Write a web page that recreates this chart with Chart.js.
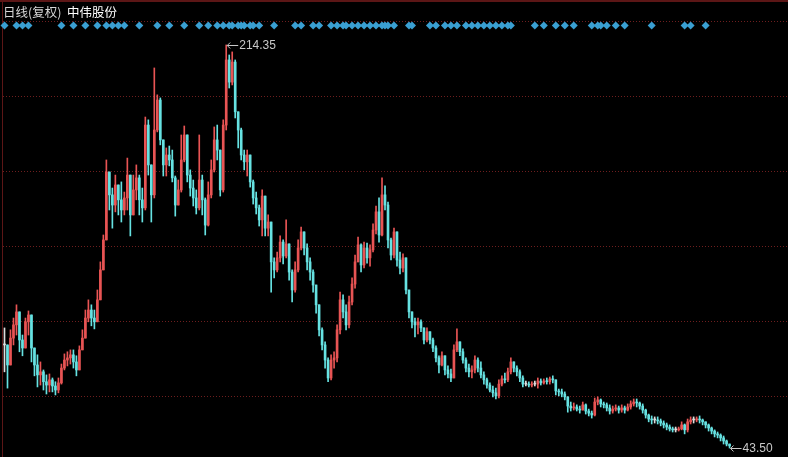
<!DOCTYPE html>
<html>
<head>
<meta charset="utf-8">
<script src="https://cdn.jsdelivr.net/npm/chart.js@4.4.1/dist/chart.umd.min.js"></script>
<style>
body { margin: 0; background: #000; }
#wrap { position: relative; width: 788px; height: 457px; background: #000; overflow: hidden; }
#kline { position: absolute; left: 0; top: 0; }
#title { position: absolute; left: 3px; top: 2px; font: 12.5px "Noto Sans CJK SC", sans-serif; color: #d6d6d6; white-space: pre; }
#title span { color: #ffffff; }
</style>
</head>
<body>
<div id="wrap">
<canvas id="kline" width="788" height="457"></canvas>
<div id="title">日线(复权)  <span>中伟股份</span></div>
</div>
<script>
/* global Chart */
// daily closes (adjusted), sampled left to right
const closes = [
    87.2, 78.7, 90.1, 95.7, 101.2, 89.3, 85.9, 97.0, 99.9, 85.9,
    78.7, 74.5, 75.8, 71.6, 70.2, 72.4, 69.8, 68.1, 71.1, 77.4,
    80.8, 81.7, 83.0, 80.0, 76.6, 85.1, 90.1, 98.6, 102.0, 98.6,
    97.0, 106.3, 119.0, 131.7, 160.5, 150.8, 146.5, 155.0, 148.7, 144.4,
    149.5, 159.2, 142.3, 152.9, 158.0, 148.7, 145.3, 180.4, 163.5, 150.8,
    178.3, 191.0, 174.1, 163.5, 167.7, 165.6, 158.0, 146.5, 152.9, 165.6,
    176.2, 159.2, 153.7, 149.5, 145.3, 157.1, 148.7, 138.0, 150.8, 161.4,
    174.1, 169.8, 152.9, 180.4, 208.0, 198.6, 207.1, 186.0, 178.3, 167.7,
    164.8, 167.7, 156.3, 149.5, 145.3, 140.2, 150.3, 136.7, 139.3, 122.4,
    119.0, 124.1, 130.8, 124.9, 130.0, 118.1, 110.5, 119.0, 128.3, 135.1,
    128.3, 122.4, 118.1, 112.6, 104.2, 93.6, 87.2, 80.8, 73.2, 80.8,
    81.7, 93.6, 106.3, 101.2, 95.7, 105.4, 113.0, 122.4, 129.6, 121.1,
    128.3, 124.1, 127.5, 135.9, 143.6, 133.8, 150.8, 146.5, 131.7, 125.3,
    135.1, 123.2, 119.8, 124.1, 110.5, 101.2, 97.0, 95.7, 97.0, 94.4,
    89.3, 92.8, 89.3, 85.9, 81.7, 78.7, 82.6, 76.6, 74.9, 73.2,
    85.1, 88.5, 84.3, 80.8, 77.4, 75.8, 76.6, 80.8, 77.4, 74.5,
    72.4, 70.2, 68.1, 66.9, 65.6, 70.6, 72.8, 72.4, 75.8, 80.0,
    77.4, 75.8, 73.2, 70.6, 70.6, 70.2, 70.6, 70.6, 71.9, 71.1,
    71.9, 71.6, 72.8, 72.4, 67.7, 67.3, 66.4, 65.2, 61.3, 60.5,
    60.9, 60.0, 59.6, 61.8, 59.2, 58.3, 57.5, 63.0, 63.9, 62.2,
    61.8, 60.5, 59.2, 60.0, 60.5, 59.6, 60.5, 59.6, 60.9, 62.2,
    63.0, 62.6, 61.3, 59.6, 57.5, 55.8, 55.4, 55.4, 55.0, 54.1,
    53.3, 52.4, 51.6, 51.2, 51.2, 51.6, 53.3, 51.2, 54.6, 55.4,
    55.4, 55.8, 55.4, 54.6, 53.3, 52.0, 50.7, 49.5, 49.0, 47.8,
    46.5, 45.2, 44.4
];
const highs = [
    94.4, 87.2, 93.6, 98.6, 104.2, 94.4, 91.4, 98.6, 101.6, 90.1,
    85.1, 83.0, 80.0, 76.6, 74.5, 74.9, 73.2, 71.6, 73.2, 79.1,
    83.4, 84.3, 85.1, 85.1, 82.6, 86.8, 93.6, 102.0, 106.3, 104.2,
    102.0, 110.5, 122.4, 133.8, 165.6, 159.2, 153.7, 159.2, 155.0, 156.3,
    152.0, 166.4, 153.7, 159.2, 163.5, 159.2, 153.7, 183.8, 182.6, 163.5,
    204.6, 193.2, 191.9, 172.0, 170.7, 171.5, 169.8, 158.8, 157.1, 176.2,
    180.0, 176.2, 161.4, 157.1, 152.9, 176.2, 159.2, 149.5, 156.3, 165.6,
    179.6, 180.4, 169.8, 182.6, 214.35, 210.1, 211.4, 208.0, 186.0, 179.1,
    169.8, 169.8, 166.4, 157.1, 152.0, 146.5, 152.9, 150.3, 142.3, 139.3,
    124.1, 126.6, 133.4, 131.7, 140.2, 130.0, 119.0, 122.4, 131.7, 137.2,
    135.1, 130.0, 124.1, 119.0, 112.6, 104.2, 94.4, 88.5, 81.7, 83.0,
    84.3, 95.7, 109.6, 108.4, 104.2, 107.9, 115.6, 125.3, 132.9, 130.0,
    130.8, 130.4, 129.6, 138.5, 146.1, 149.5, 158.0, 154.6, 147.8, 132.5,
    136.7, 135.1, 126.6, 125.8, 124.1, 110.5, 101.2, 98.6, 98.6, 97.8,
    94.4, 94.4, 92.8, 90.1, 86.8, 82.6, 84.3, 82.6, 78.3, 77.0,
    87.2, 94.0, 88.5, 85.5, 81.7, 79.1, 78.3, 82.6, 81.7, 80.0,
    75.8, 73.2, 71.1, 69.8, 68.9, 72.4, 74.1, 75.3, 77.4, 81.7,
    80.0, 78.3, 76.6, 74.1, 71.9, 71.6, 71.6, 71.9, 73.2, 72.8,
    72.8, 73.2, 73.6, 74.1, 72.4, 68.5, 68.5, 67.3, 64.7, 63.0,
    62.6, 61.8, 61.3, 63.0, 62.2, 60.0, 59.2, 64.7, 65.2, 64.3,
    63.0, 62.6, 61.8, 61.3, 61.8, 61.3, 61.8, 61.3, 62.2, 63.5,
    64.3, 64.3, 63.0, 62.2, 60.0, 57.9, 57.1, 56.7, 56.7, 55.8,
    55.0, 54.1, 53.3, 52.4, 52.4, 52.4, 54.6, 53.7, 55.8, 56.7,
    56.7, 56.7, 57.1, 55.8, 54.6, 53.7, 52.4, 51.2, 50.3, 49.5,
    48.6, 46.9, 45.2
];
const lows = [
    75.8, 68.9, 80.0, 87.2, 91.4, 84.3, 82.6, 87.2, 91.4, 80.0,
    74.1, 69.4, 70.2, 68.1, 66.4, 67.3, 67.3, 66.0, 66.9, 70.6,
    76.6, 78.3, 79.1, 77.4, 74.1, 78.7, 85.1, 92.8, 97.0, 95.3,
    94.0, 99.5, 107.1, 119.8, 131.7, 144.4, 136.7, 143.6, 142.3, 139.3,
    142.3, 144.4, 133.4, 145.3, 148.7, 142.3, 139.3, 144.4, 159.2, 139.3,
    149.5, 177.5, 172.0, 158.8, 158.8, 163.1, 156.3, 141.8, 146.9, 152.0,
    164.8, 156.3, 150.3, 146.1, 142.7, 144.4, 142.3, 133.8, 137.6, 149.5,
    160.5, 165.6, 150.3, 152.0, 178.3, 196.1, 197.4, 183.4, 170.7, 165.6,
    161.4, 158.8, 154.1, 146.9, 142.7, 137.6, 133.4, 133.4, 133.4, 109.6,
    115.6, 118.1, 122.4, 121.5, 124.1, 114.7, 105.4, 109.6, 118.1, 127.5,
    125.3, 119.0, 114.7, 109.6, 100.7, 91.0, 85.1, 77.4, 71.6, 72.4,
    77.4, 80.0, 91.9, 98.6, 93.6, 94.4, 104.2, 111.3, 122.4, 118.1,
    119.8, 121.9, 120.6, 126.6, 134.2, 130.8, 133.4, 144.4, 128.3, 123.2,
    124.1, 120.6, 117.3, 118.1, 108.8, 98.6, 94.4, 90.6, 91.9, 92.8,
    87.6, 88.5, 87.6, 84.3, 80.0, 75.3, 78.3, 74.5, 73.2, 71.6,
    73.2, 84.3, 82.6, 79.5, 75.8, 73.6, 73.2, 75.3, 75.8, 73.2,
    70.6, 68.9, 67.3, 65.2, 64.3, 64.7, 69.8, 71.1, 71.6, 74.9,
    75.8, 74.1, 71.6, 69.4, 69.8, 69.4, 69.4, 69.8, 68.9, 70.2,
    70.6, 70.6, 70.6, 71.1, 66.0, 65.6, 65.2, 63.9, 58.7, 59.2,
    59.6, 59.2, 58.3, 60.0, 57.9, 57.1, 56.2, 57.1, 61.8, 60.9,
    60.5, 59.2, 57.9, 58.3, 59.2, 58.3, 58.7, 58.3, 59.2, 60.0,
    61.3, 60.9, 60.0, 58.3, 56.2, 54.6, 53.7, 54.1, 53.7, 52.9,
    52.0, 51.2, 50.7, 50.3, 50.3, 50.7, 51.2, 49.5, 50.3, 53.7,
    54.1, 54.6, 54.1, 53.3, 52.0, 50.7, 49.5, 48.2, 47.8, 46.5,
    45.2, 44.4, 43.5
];
// days carrying a signal marker (diamond row)
const signalDays = [0, 4, 6, 8, 19, 23, 27, 31, 34, 36, 38, 40, 45, 51, 55, 60, 65, 68,
    71, 73, 75, 76, 78, 79, 80, 82, 83, 85, 90, 97, 99, 103, 105,
    109, 111, 113, 114, 116, 118, 120, 122, 124, 126, 127, 128, 130, 135, 136,
    142, 144, 147, 149, 151, 154, 156, 158, 160, 162, 164, 166, 168, 169,
    177, 180, 184, 187, 190, 196, 198, 199, 201, 204, 207, 216, 227, 229, 234];
const gridValues = [65.3, 97.1, 128.8, 160.6, 192.4, 224.2];
const totalSlots = 262;

const opens = closes.map((c, i) => i === 0 ? c : closes[i - 1]);
const upColor = '#e85454';
const downColor = '#66e2e2';
const flatColor = '#dddddd';
const colors = closes.map((c, i) => c > opens[i] ? upColor : (c < opens[i] ? downColor : flatColor));
const wicks = closes.map((c, i) => [Math.min(lows[i], opens[i], c), Math.max(highs[i], opens[i], c)]);
const bodies = closes.map((c, i) => [Math.min(opens[i], c), Math.max(opens[i], c)]);
const labels = Array.from({ length: totalSlots }, (_, i) => i);

function drawMark(c, x, y, text) {
    const yy = Math.round(y) + 0.5;
    c.strokeStyle = '#c8c8c8';
    c.lineWidth = 1;
    c.beginPath();
    c.moveTo(x + 1, yy);
    c.lineTo(x + 12, yy);
    c.moveTo(x + 1, yy);
    c.lineTo(x + 4, yy - 3);
    c.moveTo(x + 1, yy);
    c.lineTo(x + 4, yy + 3);
    c.stroke();
    c.fillStyle = '#c8c8c8';
    c.font = '12px "Liberation Sans", Arial, sans-serif';
    c.textBaseline = 'middle';
    c.textAlign = 'left';
    c.fillText(text, x + 13, yy + 0.5);
}

const extras = {
    id: 'extras',
    beforeDraw(chart) {
        const c = chart.ctx;
        c.save();
        c.fillStyle = '#000';
        c.fillRect(0, 0, chart.width, chart.height);
        c.fillStyle = '#5c1616';
        c.fillRect(0, 0, chart.width, 2);
        c.fillRect(2, 0, 1, chart.height);
        c.restore();
    },
    afterDatasetsDraw(chart) {
        const c = chart.ctx;
        const xs = chart.scales.x;
        const ys = chart.scales.y;
        c.save();
        c.fillStyle = '#3a9fd2';
        signalDays.forEach(d => {
            const x = xs.getPixelForValue(d);
            c.beginPath();
            c.moveTo(x, 21.5);
            c.lineTo(x + 4, 25.5);
            c.lineTo(x, 29.5);
            c.lineTo(x - 4, 25.5);
            c.closePath();
            c.fill();
        });
        let hi = 0, lo = 0;
        highs.forEach((h, i) => { if (h > highs[hi]) hi = i; });
        lows.forEach((l, i) => { if (l < lows[lo]) lo = i; });
        drawMark(c, xs.getPixelForValue(hi), ys.getPixelForValue(highs[hi]), highs[hi].toFixed(2));
        drawMark(c, xs.getPixelForValue(lo), ys.getPixelForValue(lows[lo]), lows[lo].toFixed(2));
        c.restore();
    }
};

const ctx = document.getElementById('kline').getContext('2d');
new Chart(ctx, {
    type: 'bar',
    data: {
        labels: labels,
        datasets: [{
            data: wicks,
            backgroundColor: colors,
            barThickness: 1,
            grouped: false,
            order: 2
        }, {
            data: bodies,
            backgroundColor: colors,
            barThickness: 2,
            minBarLength: 1,
            grouped: false,
            order: 1
        }]
    },
    options: {
        responsive: false,
        animation: false,
        devicePixelRatio: 1,
        layout: { padding: { left: 3, right: 0, top: 0, bottom: 0 } },
        plugins: {
            legend: { display: false },
            tooltip: { enabled: false }
        },
        scales: {
            x: { display: false, offset: true },
            y: {
                min: 39.7,
                max: 233.4,
                ticks: { display: false },
                afterBuildTicks: s => { s.ticks = gridValues.map(v => ({ value: v })); },
                afterFit: s => { s.width = 0; },
                grid: { color: '#6e1e1e', drawTicks: false },
                border: { display: false, dash: [1, 2] }
            }
        }
    },
    plugins: [extras]
});
</script>
</body>
</html>
